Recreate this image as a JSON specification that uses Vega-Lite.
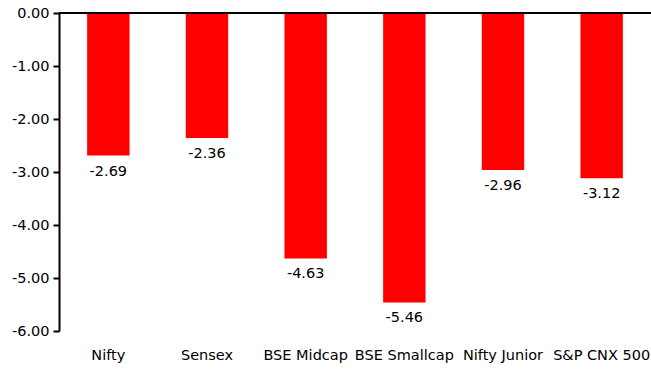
{
  "$schema": "https://vega.github.io/schema/vega-lite/v6.json",
  "width": 592,
  "height": 318,
  "autosize": "none",
  "padding": {"left": 59, "top": 13, "right": 0, "bottom": 42},
  "background": "white",
  "config": {
    "view": {"stroke": null},
    "font": "DejaVu Sans",
    "locale": {"number": {"decimal": ".", "thousands": ",", "grouping": [3], "currency": ["$", ""], "minus": "-"}}
  },
  "data": {"values": [
    {"index": "Nifty", "value": -2.69},
    {"index": "Sensex", "value": -2.36},
    {"index": "BSE Midcap", "value": -4.63},
    {"index": "BSE Smallcap", "value": -5.46},
    {"index": "Nifty Junior", "value": -2.96},
    {"index": "S&P CNX 500", "value": -3.12}
  ]},
  "layer": [
    {
      "mark": {"type": "bar", "color": "#ff0000"},
      "encoding": {
        "x": {"field": "index", "type": "nominal", "sort": null,
          "scale": {"paddingInner": 0.57, "paddingOuter": 0.285},
          "axis": {"title": null, "labelAngle": 0, "domain": false, "ticks": false, "labelPadding": 17, "labelFontSize": 14.5, "labelColor": "black"}},
        "y": {"field": "value", "type": "quantitative",
          "scale": {"domain": [-6, 0], "nice": false},
          "axis": {"title": null, "format": ".2f", "values": [0, -1, -2, -3, -4, -5, -6], "grid": false, "domainColor": "black", "domainWidth": 2, "tickColor": "black", "tickWidth": 2, "tickSize": 6, "labelFontSize": 14.5, "labelColor": "black", "labelPadding": 4}}
      }
    },
    {
      "mark": {"type": "text", "baseline": "top", "dy": 9, "fontSize": 14.5, "color": "black"},
      "encoding": {
        "x": {"field": "index", "type": "nominal", "sort": null},
        "y": {"field": "value", "type": "quantitative"},
        "text": {"field": "value", "type": "quantitative", "format": ".2f"}
      }
    },
    {
      "data": {"values": [{"z": 0}]},
      "mark": {"type": "rule", "color": "black", "strokeWidth": 2},
      "encoding": {"y": {"field": "z", "type": "quantitative"}}
    }
  ]
}
